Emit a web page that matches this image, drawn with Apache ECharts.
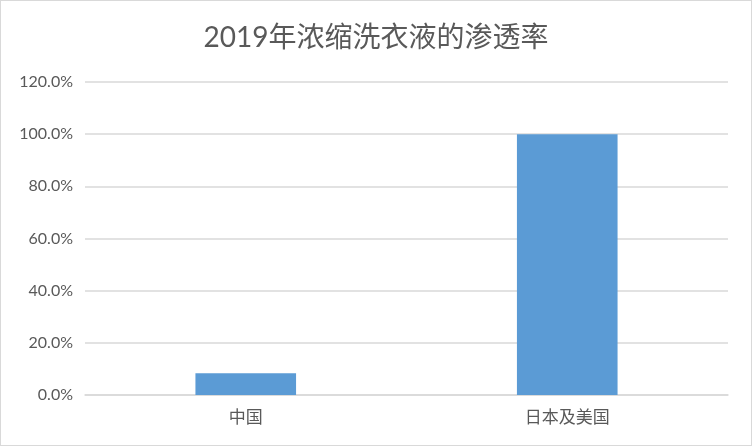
<!DOCTYPE html>
<html><head><meta charset="utf-8">
<script src="https://cdn.jsdelivr.net/npm/echarts@6/dist/echarts.min.js"></script>
<style>html,body{margin:0;padding:0;background:#fff}#c{width:752px;height:446px;box-sizing:border-box;border:1px solid #d9d9d9}</style>
</head><body><div id="c"></div>
<script>
const titleText = '2019年浓缩洗衣液的渗透率';
const categories = ['中国', '日本及美国'];
const penetration = [8.3, 100];
const yTicks = [0, 20, 40, 60, 80, 100, 120];

const chart = echarts.init(document.getElementById('c'));
chart.setOption({
  animation: false,
  title: {
    text: titleText, left: 'center', top: 18,
    textStyle: {fontFamily: 'Lato, "Noto Sans CJK SC"', fontSize: 28, fontWeight: 'normal', color: '#595959'}
  },
  grid: {left: 84, right: 23, top: 81, bottom: 50},
  xAxis: {
    type: 'category', data: categories,
    axisLine: {lineStyle: {color: '#d9d9d9', width: 1.5}},
    axisTick: {show: false},
    axisLabel: {color: '#595959', fontSize: 17, margin: 13, fontFamily: '"Noto Sans CJK SC"'}
  },
  yAxis: {
    type: 'value', min: yTicks[0], max: yTicks[yTicks.length - 1], interval: 20,
    axisLine: {show: false}, axisTick: {show: false},
    splitLine: {lineStyle: {color: '#d9d9d9', width: 1.5}},
    axisLabel: {color: '#595959', fontSize: 16, margin: 12, fontFamily: 'Lato',
      formatter: v => v.toFixed(1) + '%'}
  },
  series: [{
    type: 'bar', data: penetration, barWidth: '31.3%',
    itemStyle: {color: '#5b9bd5'}
  }]
});
</script></body></html>
